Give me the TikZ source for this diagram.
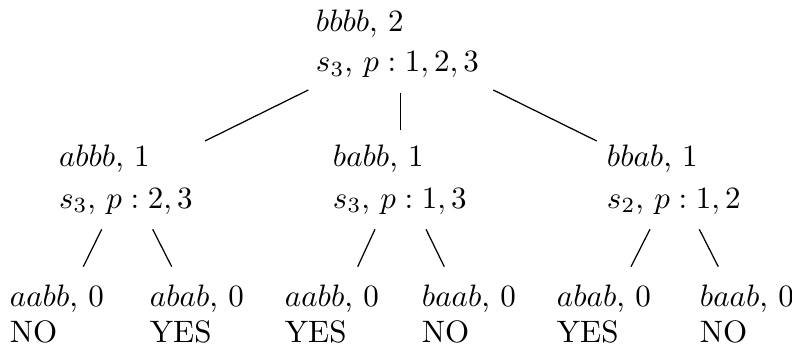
\documentclass[tikz,border=0pt]{standalone}
\begin{document}
\begin{tikzpicture}[x=0.3226pt,y=-0.3226pt,
  lbl/.style={anchor=base west,inner sep=0pt,outer sep=0pt},
  edge/.style={line width=0.4pt}]
\useasboundingbox (0,0) rectangle (792,347);
% root
\node[lbl] (r1) at (316,31.7) {$bbbb$, $2$};
\node[lbl] (r2) at (316,71.7) {$s_3$, $p:1,2,3$};
% second level
\node[lbl] (a1) at (59,166.7)  {$abbb$, $1$};
\node[lbl] (a2) at (59,208.3)  {$s_3$, $p:2,3$};
\node[lbl] (b1) at (333,166.7) {$babb$, $1$};
\node[lbl] (b2) at (333,208.3) {$s_3$, $p:1,3$};
\node[lbl] (c1) at (607,166.7) {$bbab$, $1$};
\node[lbl] (c2) at (607,208.3) {$s_2$, $p:1,2$};
% leaves
\node[lbl] (l1) at (10,306.7)  {$aabb$, $0$};
\node[lbl] (n1) at (10,343)    {NO};
\node[lbl] (l2) at (150,306.7) {$abab$, $0$};
\node[lbl] (n2) at (150,343)   {YES};
\node[lbl] (l3) at (285,306.7) {$aabb$, $0$};
\node[lbl] (n3) at (285,343)   {YES};
\node[lbl] (l4) at (422,306.7) {$baab$, $0$};
\node[lbl] (n4) at (422,343)   {NO};
\node[lbl] (l5) at (557,306.7) {$abab$, $0$};
\node[lbl] (n5) at (557,343)   {YES};
\node[lbl] (l6) at (700,306.7) {$baab$, $0$};
\node[lbl] (n6) at (700,343)   {NO};
% edges from the root
\draw[edge] ([shift={(-7.7,18.3)}]r2.base west) -- ([shift={(146,-25.7)}]a1.base west);
\draw[edge] ([shift={(84.7,21.6)}]r2.base west) -- ([shift={(67.7,-36.7)}]b1.base west);
\draw[edge] ([shift={(177.3,18.3)}]r2.base west) -- ([shift={(-10.3,-25.7)}]c1.base west);
% edges to the leaves
\draw[edge] ([shift={(42.7,21)}]a2.base west) -- ([shift={(73.3,-40)}]l1.base west);
\draw[edge] ([shift={(93.7,21)}]a2.base west) -- ([shift={(21.7,-40)}]l2.base west);
\draw[edge] ([shift={(42,21)}]b2.base west) -- ([shift={(72.7,-40)}]l3.base west);
\draw[edge] ([shift={(93,21)}]b2.base west) -- ([shift={(22.3,-40)}]l4.base west);
\draw[edge] ([shift={(43,21)}]c2.base west) -- ([shift={(74,-40)}]l5.base west);
\draw[edge] ([shift={(92.3,21)}]c2.base west) -- ([shift={(18.3,-40)}]l6.base west);
\end{tikzpicture}
\end{document}
